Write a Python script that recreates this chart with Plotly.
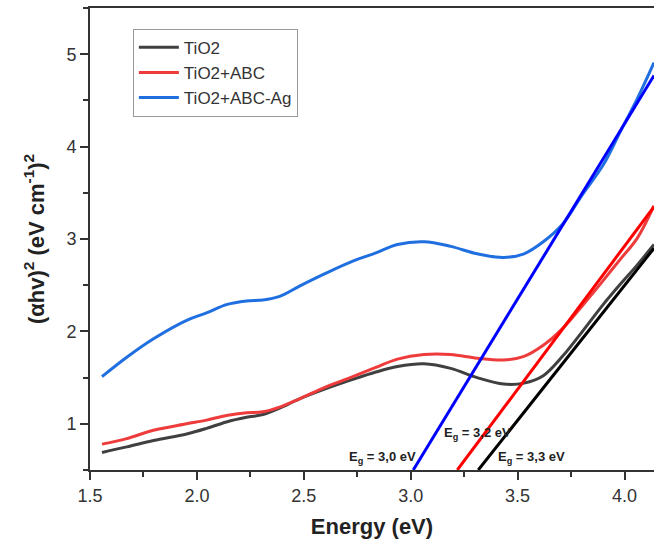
import plotly.graph_objects as go

energy = [1.556, 1.672, 1.797, 1.952, 2.045, 2.138, 2.232, 2.309, 2.387, 2.48, 2.604,
          2.729, 2.837, 2.938, 3.062, 3.187, 3.311, 3.435, 3.53, 3.62, 3.71, 3.80,
          3.90, 3.98, 4.06, 4.138]

tio2 = [0.69, 0.75, 0.82, 0.89, 0.95, 1.02, 1.07, 1.10, 1.17, 1.27, 1.38,
        1.48, 1.56, 1.62, 1.65, 1.60, 1.50, 1.43, 1.44, 1.52, 1.73, 1.99,
        2.29, 2.51, 2.72, 2.94]

tio2_abc = [0.78, 0.84, 0.93, 1.00, 1.04, 1.09, 1.12, 1.13, 1.18, 1.27, 1.40,
            1.51, 1.61, 1.70, 1.75, 1.75, 1.71, 1.69, 1.73, 1.85, 2.03, 2.27,
            2.55, 2.78, 3.01, 3.36]

tio2_abc_ag = [1.51, 1.72, 1.92, 2.12, 2.20, 2.29, 2.33, 2.34, 2.38, 2.49, 2.63,
               2.76, 2.85, 2.94, 2.97, 2.92, 2.84, 2.80, 2.84, 2.97, 3.16, 3.47,
               3.80, 4.16, 4.52, 4.91]

# Tauc tangent lines (start on the x axis, end at the right edge)
tan_ag_x = [3.012, 4.138]
tan_ag_y = [0.5, 4.77]
tan_abc_x = [3.218, 4.138]
tan_abc_y = [0.5, 3.35]
tan_tio2_x = [3.316, 4.138]
tan_tio2_y = [0.5, 2.90]

labels = ["E<sub>g</sub> = 3,0 eV", "E<sub>g</sub> = 3,2 eV", "E<sub>g</sub> = 3,3 eV"]
label_x = [2.700, 3.145, 3.400]
label_y = [0.64, 0.89, 0.64]

FONT = "Arial, Liberation Sans, sans-serif"

fig = go.Figure()

fig.add_trace(go.Scatter(x=energy, y=tio2, mode="lines", name="TiO2",
                         line=dict(color="#404040", width=3, shape="spline")))
fig.add_trace(go.Scatter(x=energy, y=tio2_abc, mode="lines", name="TiO2+ABC",
                         line=dict(color="#EE3B3B", width=3, shape="spline")))
fig.add_trace(go.Scatter(x=energy, y=tio2_abc_ag, mode="lines", name="TiO2+ABC-Ag",
                         line=dict(color="#1F6FE0", width=3, shape="spline")))

fig.add_trace(go.Scatter(x=tan_ag_x, y=tan_ag_y, mode="lines", showlegend=False,
                         line=dict(color="#0000FF", width=3)))
fig.add_trace(go.Scatter(x=tan_abc_x, y=tan_abc_y, mode="lines", showlegend=False,
                         line=dict(color="#FF0000", width=3)))
fig.add_trace(go.Scatter(x=tan_tio2_x, y=tan_tio2_y, mode="lines", showlegend=False,
                         line=dict(color="#000000", width=3)))

for t, x, y in zip(labels, label_x, label_y):
    fig.add_annotation(x=x, y=y, text="<b>" + t + "</b>", showarrow=False,
                       xanchor="left", yanchor="middle",
                       font=dict(family=FONT, size=13, color="#222222"))

fig.update_layout(
    width=654, height=544,
    margin=dict(l=90, r=0, t=8, b=74),
    paper_bgcolor="white", plot_bgcolor="white",
    font=dict(family=FONT, color="#333333"),
    showlegend=True,
    legend=dict(x=0.076, y=0.955, xanchor="left", yanchor="top",
                bgcolor="white", bordercolor="#999999", borderwidth=1,
                font=dict(family=FONT, size=17, color="#333333"),
                tracegroupgap=0, itemwidth=40),
    xaxis=dict(range=[1.5, 4.138], tickmode="linear", tick0=1.5, dtick=0.5,
               tickformat=".1f", ticks="outside", ticklen=8, tickwidth=2,
               tickcolor="#333333", showline=True, linewidth=2, linecolor="#333333",
               mirror=True, showgrid=False, zeroline=False,
               tickfont=dict(family=FONT, size=18, color="#333333"),
               minor=dict(ticks="outside", ticklen=5, tickwidth=2, tickcolor="#333333",
                          dtick=0.25, tick0=1.5, showgrid=False),
               title=dict(text="<b>Energy (eV)</b>", standoff=14,
                          font=dict(family=FONT, size=22, color="#222222"))),
    yaxis=dict(range=[0.5, 5.5], tickmode="linear", tick0=0, dtick=1,
               ticks="outside", ticklen=8, tickwidth=2, tickcolor="#333333",
               showline=True, linewidth=2, linecolor="#333333",
               showgrid=False, zeroline=False,
               tickfont=dict(family=FONT, size=18, color="#333333"),
               minor=dict(ticks="outside", ticklen=5, tickwidth=2, tickcolor="#333333",
                          dtick=0.5, tick0=0, showgrid=False),
               title=dict(text="<b>(\u03b1hv)<sup>2</sup> (eV cm<sup>-1</sup>)<sup>2</sup></b>",
                          standoff=16,
                          font=dict(family=FONT, size=22, color="#222222"))),
)

fig.write_html("out.html")
